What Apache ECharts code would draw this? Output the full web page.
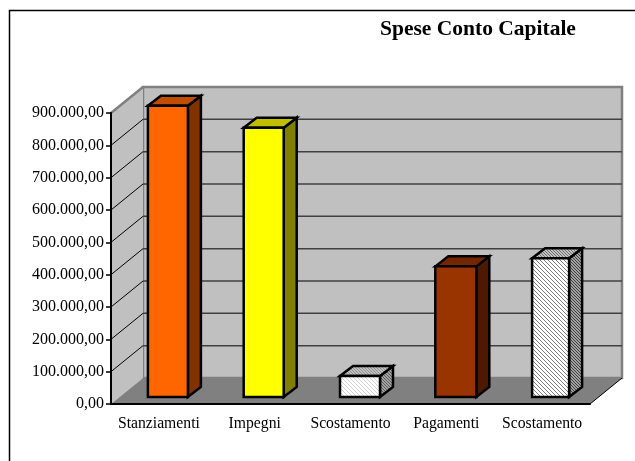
<!DOCTYPE html>
<html>
<head>
<meta charset="utf-8">
<style>
  html, body { margin: 0; padding: 0; background: #fff; }
  #chart { width: 635px; height: 461px; }
</style>
<script src="https://cdn.jsdelivr.net/npm/echarts@6/dist/echarts.min.js"></script>
</head>
<body>
<div id="chart"></div>
<script>
const titleText = 'Spese Conto Capitale'
const categories = ['Stanziamenti', 'Impegni', 'Scostamento', 'Pagamenti', 'Scostamento']
const values = [901000, 833000, 65000, 404000, 429000]
const tickValues = [0, 100000, 200000, 300000, 400000, 500000, 600000, 700000, 800000, 900000]
const tickLabels = ['0,00', '100.000,00', '200.000,00', '300.000,00', '400.000,00', '500.000,00', '600.000,00', '700.000,00', '800.000,00', '900.000,00']

// 3d look: wall depth and bar placement, in px
const WALL_DX = 32
const WALL_DY = -26
const BAR_DX = 13
const BAR_DY = -10
const BAR_OFFSET_Y = -7
const barLeft = [-11, -11, -10.5, -11, -10]
const barWidth = [40, 40, 40, 41, 37]

function hatch(bg, fg, size) {
  const c = document.createElement('canvas')
  c.width = size
  c.height = size
  const ctx = c.getContext('2d')
  ctx.fillStyle = bg
  ctx.fillRect(0, 0, size, size)
  ctx.strokeStyle = fg
  ctx.lineWidth = 1
  ctx.beginPath()
  ctx.moveTo(-1, -1)
  ctx.lineTo(size + 1, size + 1)
  ctx.moveTo(-1, size - 1)
  ctx.lineTo(1, size + 1)
  ctx.moveTo(size - 1, -1)
  ctx.lineTo(size + 1, 1)
  ctx.stroke()
  return { image: c, repeat: 'repeat' }
}

const barColors = [
  { front: '#ff6600', top: '#c04d00', side: '#803300' },
  { front: '#ffff00', top: '#bfbf00', side: '#808000' },
  { front: hatch('#ffffff', '#d0d0d0', 4), top: hatch('#c0c0c0', '#909090', 3), side: hatch('#a0a0a0', '#606060', 3) },
  { front: '#993300', top: '#732600', side: '#4d1a00' },
  { front: hatch('#ffffff', '#808080', 4), top: hatch('#c0c0c0', '#707070', 3), side: hatch('#a0a0a0', '#404040', 3) },
]

function renderWalls(params, api) {
  const g = params.coordSys
  const left = g.x
  const right = g.x + g.width
  const top = g.y
  const bottom = g.y + g.height
  const wallBorder = { stroke: '#808080', lineWidth: 2.5, lineJoin: 'miter' }
  return {
    type: 'group',
    children: [
      {
        type: 'polygon',
        shape: { points: [[left + WALL_DX, top + WALL_DY], [right + WALL_DX, top + WALL_DY], [right + WALL_DX, bottom + WALL_DY], [left + WALL_DX, bottom + WALL_DY]] },
        style: { fill: '#c0c0c0', ...wallBorder },
      },
      {
        type: 'polygon',
        shape: { points: [[left, top], [left + WALL_DX, top + WALL_DY], [left + WALL_DX, bottom + WALL_DY], [left, bottom]] },
        style: { fill: '#c0c0c0', stroke: null },
      },
      {
        type: 'line',
        shape: { x1: left, y1: top, x2: left + WALL_DX, y2: top + WALL_DY },
        style: wallBorder,
      },
      {
        type: 'polygon',
        shape: { points: [[left, bottom], [left + WALL_DX, bottom + WALL_DY], [right + WALL_DX, bottom + WALL_DY], [right, bottom]] },
        style: { fill: '#808080', stroke: null },
      },
      {
        type: 'line',
        shape: { x1: right, y1: bottom, x2: right + WALL_DX, y2: bottom + WALL_DY },
        style: { stroke: '#000', lineWidth: 1 },
      },
    ],
  }
}

function renderGridLine(params, api) {
  const g = params.coordSys
  const y = api.coord([0, api.value(0)])[1]
  return {
    type: 'group',
    children: [
      {
        type: 'line',
        shape: { x1: g.x, y1: y, x2: g.x + WALL_DX, y2: y + WALL_DY },
        style: { stroke: '#000', lineWidth: 1 },
      },
      {
        type: 'line',
        shape: { x1: g.x + WALL_DX, y1: y + WALL_DY, x2: g.x + g.width + WALL_DX, y2: y + WALL_DY },
        style: { stroke: '#404040', lineWidth: 1.5 },
      },
    ],
  }
}

function renderBar(params, api) {
  const i = api.value(0)
  const base = api.coord([i, 0])
  const head = api.coord([i, api.value(1)])
  const x0 = base[0] + barLeft[i]
  const x1 = x0 + barWidth[i]
  const y0 = head[1] + BAR_OFFSET_Y
  const y1 = base[1] + BAR_OFFSET_Y
  const colors = barColors[i]
  const edge = { stroke: '#000', lineWidth: 2.5, lineJoin: 'miter' }
  return {
    type: 'group',
    children: [
      {
        type: 'polygon',
        shape: { points: [[x1, y0], [x1 + BAR_DX, y0 + BAR_DY], [x1 + BAR_DX, y1 + BAR_DY], [x1, y1]] },
        style: { fill: colors.side, ...edge },
      },
      {
        type: 'polygon',
        shape: { points: [[x0, y0], [x0 + BAR_DX, y0 + BAR_DY], [x1 + BAR_DX, y0 + BAR_DY], [x1, y0]] },
        style: { fill: colors.top, ...edge },
      },
      {
        type: 'polygon',
        shape: { points: [[x0, y0], [x1, y0], [x1, y1], [x0, y1]] },
        style: { fill: colors.front, ...edge },
      },
    ],
  }
}

const chart = echarts.init(document.getElementById('chart'), null, { renderer: 'canvas' })
chart.setOption({
  animation: false,
  backgroundColor: '#fff',
  textStyle: { fontFamily: 'Liberation Serif' },
  title: {
    text: titleText,
    left: 380,
    top: 18,
    padding: 0,
    textStyle: { fontFamily: 'Liberation Serif', fontWeight: 'bold', fontSize: 21.5, color: '#000' },
  },
  graphic: [
    {
      type: 'polyline',
      shape: { points: [[9.5, 461], [9.5, 10.5], [635, 10.5]] },
      style: { stroke: '#000', lineWidth: 1.5, fill: null },
    },
  ],
  grid: { left: 111, top: 113, width: 479, height: 291 },
  xAxis: {
    type: 'category',
    data: categories,
    z: 3,
    axisLine: { lineStyle: { color: '#000', width: 2 } },
    axisTick: { length: 5, lineStyle: { color: '#000', width: 1 } },
    axisLabel: { interval: 0, margin: 12, fontSize: 15.7, color: '#000', fontFamily: 'Liberation Serif' },
  },
  yAxis: {
    type: 'value',
    min: 0,
    max: 900000,
    interval: 100000,
    z: 3,
    splitLine: { show: false },
    axisLine: { show: true, lineStyle: { color: '#000', width: 2 } },
    axisTick: { show: true, length: 5, lineStyle: { color: '#000', width: 1.5 } },
    axisLabel: {
      margin: 7,
      fontSize: 16,
      color: '#000',
      fontFamily: 'Liberation Serif',
      formatter: (value, index) => tickLabels[index],
    },
  },
  series: [
    { type: 'custom', name: 'walls', z: 1, silent: true, data: [[0]], renderItem: renderWalls },
    { type: 'custom', name: 'griglia', z: 2, silent: true, data: tickValues.slice(1, -1).map((v) => [v]), encode: { y: 0 }, renderItem: renderGridLine },
    { type: 'custom', name: 'Spese', z: 4, data: values.map((v, i) => [i, v]), encode: { x: 0, y: 1 }, renderItem: renderBar },
  ],
})
</script>
</body>
</html>
